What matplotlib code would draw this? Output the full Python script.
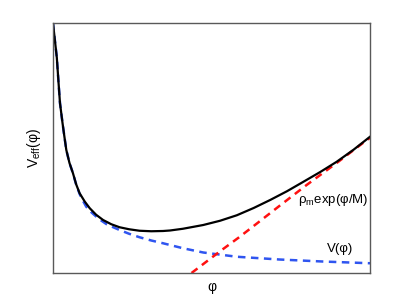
import numpy as np
import matplotlib.pyplot as plt

plt.rcParams['font.family'] = ['Liberation Sans', 'DejaVu Sans']
plt.rcParams['mathtext.fontset'] = 'custom'
plt.rcParams['mathtext.rm'] = 'Liberation Sans'
plt.rcParams['mathtext.it'] = 'Liberation Sans:italic'

# values (axes units 0..1)
phi_eff = [0.000, 0.006, 0.012, 0.017, 0.022, 0.030, 0.036, 0.042, 0.052, 0.063,
           0.073, 0.084, 0.100, 0.116, 0.136, 0.158, 0.184, 0.210, 0.240, 0.273,
           0.310, 0.347, 0.369, 0.410, 0.474, 0.527, 0.580, 0.633, 0.685, 0.738,
           0.790, 0.843, 0.895, 0.948, 1.000]
v_eff = [1.000, 0.930, 0.862, 0.770, 0.680, 0.600, 0.545, 0.492, 0.440, 0.399,
         0.355, 0.319, 0.286, 0.259, 0.233, 0.212, 0.195, 0.183, 0.175, 0.169,
         0.167, 0.168, 0.170, 0.177, 0.192, 0.209, 0.231, 0.260, 0.292, 0.327,
         0.365, 0.404, 0.445, 0.493, 0.545]

phi_v = [0.000, 0.006, 0.012, 0.017, 0.022, 0.030, 0.036, 0.042, 0.052, 0.063,
         0.073, 0.084, 0.094, 0.105, 0.120, 0.137, 0.152, 0.168, 0.190, 0.210,
         0.240, 0.273, 0.310, 0.347, 0.410, 0.474, 0.580, 0.714, 0.850, 1.000]
v_pot = [1.000, 0.930, 0.862, 0.770, 0.680, 0.600, 0.545, 0.492, 0.440, 0.399,
         0.354, 0.316, 0.290, 0.265, 0.244, 0.225, 0.210, 0.196, 0.183, 0.172,
         0.157, 0.143, 0.130, 0.119, 0.099, 0.082, 0.065, 0.054, 0.046, 0.039]

phi_rho = [0.437, 0.527, 0.585, 0.631, 0.716, 0.800, 0.900, 0.990, 1.000]
v_rho = [0.000, 0.087, 0.141, 0.186, 0.270, 0.352, 0.445, 0.532, 0.540]

fig = plt.figure(figsize=(4.09, 3.08), dpi=100)
ax = fig.add_axes([53 / 409, 35 / 308, 317 / 409, 250 / 308])

ax.plot(phi_v, v_pot, color='#2f55f0', lw=1.8, ls=(0, (3, 2.2)))
ax.plot(phi_rho, v_rho, color='#ff1010', lw=1.8, ls=(0, (3, 2.2)))
ax.plot(phi_eff, v_eff, color='black', lw=1.6)

ax.text(0.772, 0.29, r'ρ$_\mathrm{m}$exp(φ/M)', fontsize=9.5, ha='left', va='center')
ax.text(0.905, 0.097, 'V(φ)', fontsize=9.5, ha='center', va='center')

ax.set_xlim(0, 1)
ax.set_ylim(0, 1)
ax.set_xticks([])
ax.set_yticks([])
for s in ax.spines.values():
    s.set_color('0.35')
    s.set_linewidth(1.0)

ax.set_xlabel('φ', fontsize=10, labelpad=5)
ax.set_ylabel(r'V$_\mathrm{eff}$(φ)', fontsize=10, labelpad=7)

fig.savefig('out.png', dpi=100)
